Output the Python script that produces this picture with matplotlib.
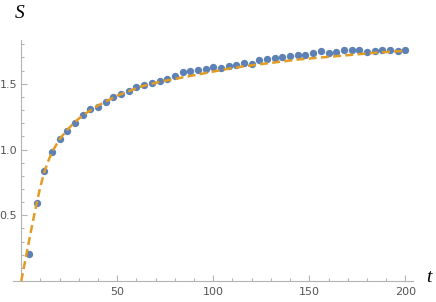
import matplotlib.pyplot as plt
from matplotlib.ticker import MultipleLocator, FixedLocator

# data points (t, S)
t_pts = list(range(4, 201, 4))
s_pts = [0.205, 0.595, 0.84, 0.98, 1.078, 1.138, 1.20, 1.26, 1.305, 1.325,
         1.36, 1.397, 1.42, 1.447, 1.478, 1.49, 1.503, 1.523, 1.54, 1.56,
         1.587, 1.60, 1.605, 1.61, 1.627, 1.622, 1.637, 1.645, 1.658, 1.652,
         1.683, 1.688, 1.693, 1.70, 1.709, 1.716, 1.721, 1.736, 1.749, 1.736,
         1.739, 1.754, 1.754, 1.759, 1.744, 1.747, 1.754, 1.754, 1.749, 1.754]

# fitted curve
t_fit = [0, 2, 4, 6, 8, 10, 12, 14, 16, 20, 24, 28, 32, 40, 50, 62, 72, 81,
         90, 99, 108, 116, 125, 135, 145, 156, 165, 175, 184, 196, 200]
s_fit = [0.0, 0.15, 0.30, 0.45, 0.59, 0.72, 0.83, 0.91, 0.98, 1.08, 1.15, 1.21,
         1.26, 1.335, 1.41, 1.478, 1.515, 1.54, 1.565, 1.59, 1.615, 1.633,
         1.65, 1.668, 1.686, 1.70, 1.711, 1.724, 1.736, 1.747, 1.751]

x_ticks = [50, 100, 150, 200]
y_ticks = [0.5, 1.0, 1.5]

blue = "#5E81B5"
orange = "#E19C24"
axis_gray = "#b3b3b3"

fig = plt.figure(figsize=(4.36, 3.02), dpi=100)
ax = fig.add_axes([13 / 436, 21 / 302, 400 / 436, 240.6 / 302])

ax.plot(t_pts, s_pts, "o", color=blue, markersize=5.3, markeredgewidth=0,
        clip_on=False, zorder=2)
ax.plot(t_fit, s_fit, color=orange, lw=1.8, dashes=(3.2, 1.7),
        clip_on=False, zorder=3)

ax.set_xlim(-4.3, 204)
ax.set_ylim(0, 1.83)

ax.spines["left"].set_position(("data", 0))
ax.spines["bottom"].set_position(("data", 0))
ax.spines["right"].set_visible(False)
ax.spines["top"].set_visible(False)
for s in ("left", "bottom"):
    ax.spines[s].set_color(axis_gray)
    ax.spines[s].set_linewidth(0.8)

ax.xaxis.set_major_locator(FixedLocator(x_ticks))
ax.yaxis.set_major_locator(FixedLocator(y_ticks))
ax.xaxis.set_minor_locator(MultipleLocator(10))
ax.yaxis.set_minor_locator(MultipleLocator(0.1))
ax.set_xticklabels([str(v) for v in x_ticks])
ax.set_yticklabels([f"{v:.1f}" for v in y_ticks])

ax.tick_params(which="both", direction="in", color=axis_gray, width=0.8,
               labelsize=8, labelcolor="#555555")
ax.tick_params(which="major", length=4)
ax.tick_params(which="minor", length=2.5)
ax.tick_params(axis="x", pad=4)
ax.tick_params(axis="y", pad=3)

fig.text(20 / 436, 1 - 13.5 / 302, "S", fontsize=14, style="italic",
         family="Liberation Serif", ha="center", va="center")
fig.text(429 / 436, 1 - 278 / 302, "t", fontsize=14, style="italic",
         family="Liberation Serif", ha="center", va="center")

fig.savefig("out.png", dpi=100)
